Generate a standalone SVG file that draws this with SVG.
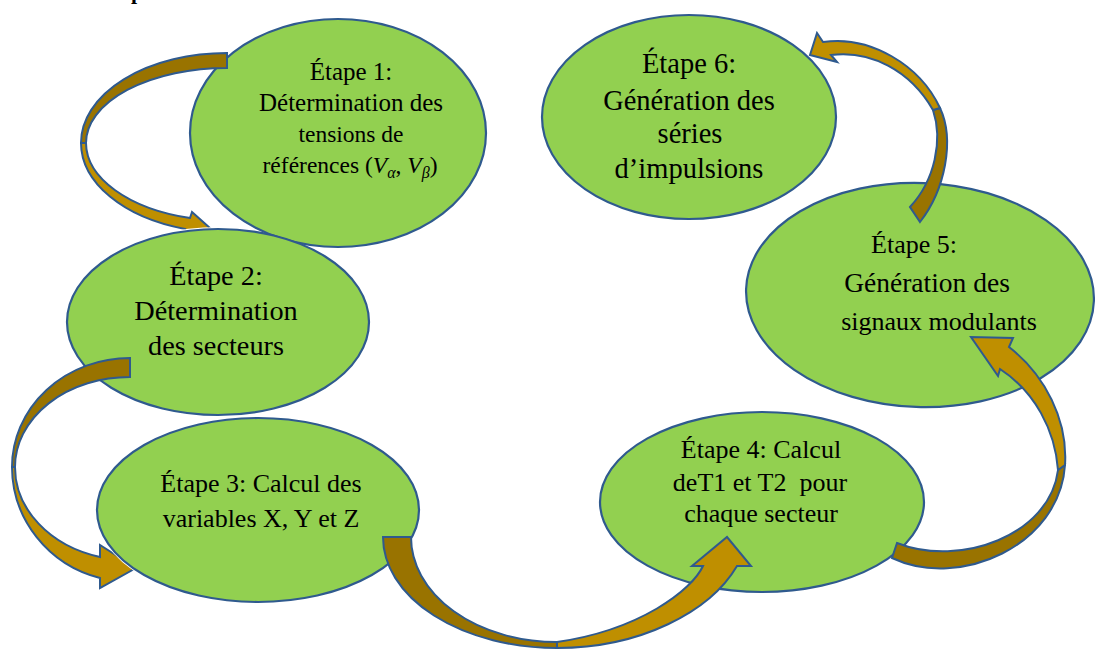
<svg xmlns="http://www.w3.org/2000/svg" width="1096" height="650" viewBox="0 0 1096 650">
  <style>
    .step { fill: #92D050; stroke: #2F5A8E; stroke-width: 2.2; }
    .lbl { font-family: 'Liberation Serif', 'DejaVu Serif', serif; fill: #000; text-anchor: middle; }
    .back { fill: #997300; stroke: #2F5A8E; stroke-width: 2; stroke-linejoin: miter; }
    .front { fill: #BF8F00; stroke: #2F5A8E; stroke-width: 2; stroke-linejoin: miter; }
  </style>
  <defs>
    <!-- keep the arrow heads tucked behind the ellipses they run into -->
    <clipPath id="behind-step2">
      <path clip-rule="evenodd" d="M0,0H1096V650H0Z M65,322 A153,95 0 1 0 371,322 A153,95 0 1 0 65,322 Z"/>
    </clipPath>
    <clipPath id="behind-step3">
      <path clip-rule="evenodd" d="M0,0H1096V650H0Z M95,510 A163,94 0 1 0 421,510 A163,94 0 1 0 95,510 Z"/>
    </clipPath>
  </defs>
  <rect width="1096" height="650" fill="#fff"/>

  <!-- clipped heading fragment at the very top -->
  <text x="131" y="-1" font-family="'Liberation Serif', 'DejaVu Serif', serif" font-weight="bold" font-size="22">p</text>

  <g id="step1" font-family="'Liberation Serif', 'DejaVu Serif', serif">
    <ellipse class="step" cx="338" cy="133" rx="148" ry="114"/>
    <text class="lbl" x="351" y="80" font-size="25">Étape 1:</text>
    <text class="lbl" x="351" y="111" font-size="25">Détermination des</text>
    <text class="lbl" x="351" y="142" font-size="23.5">tensions de</text>
    <text class="lbl" x="350" y="173" font-size="23.5">références (<tspan font-style="italic">V</tspan><tspan font-style="italic" font-size="16" dy="5">α</tspan><tspan dy="-5">, </tspan><tspan font-style="italic">V</tspan><tspan font-style="italic" font-size="16" dy="5">β</tspan><tspan dy="-5">)</tspan></text>
  </g>

  <g id="step2" font-family="'Liberation Serif', 'DejaVu Serif', serif">
    <ellipse class="step" cx="218" cy="322" rx="151" ry="93"/>
    <text class="lbl" x="216" y="285" font-size="28.3">Étape 2:</text>
    <text class="lbl" x="216" y="320" font-size="28.3">Détermination</text>
    <text class="lbl" x="216" y="355" font-size="28.3">des secteurs</text>
  </g>

  <g id="step3" font-family="'Liberation Serif', 'DejaVu Serif', serif">
    <ellipse class="step" cx="258" cy="510" rx="161" ry="92"/>
    <text class="lbl" x="261" y="492" font-size="26">Étape 3: Calcul des</text>
    <text class="lbl" x="261" y="527" font-size="26">variables X, Y et Z</text>
  </g>

  <g id="step4" font-family="'Liberation Serif', 'DejaVu Serif', serif">
    <ellipse class="step" cx="762" cy="502" rx="162" ry="90"/>
    <text class="lbl" x="761" y="458" font-size="26">Étape 4: Calcul</text>
    <text class="lbl" x="760" y="491" font-size="26" xml:space="preserve">deT1 et T2  pour</text>
    <text class="lbl" x="761" y="522" font-size="26">chaque secteur</text>
  </g>

  <g id="step5" font-family="'Liberation Serif', 'DejaVu Serif', serif">
    <ellipse class="step" cx="920" cy="295" rx="174" ry="112" transform="rotate(2 920 295)"/>
    <text class="lbl" x="914" y="253" font-size="26">Étape 5:</text>
    <text class="lbl" x="927" y="292" font-size="27.5">Génération des</text>
    <text class="lbl" x="939" y="330" font-size="26">signaux modulants</text>
  </g>

  <g id="step6" font-family="'Liberation Serif', 'DejaVu Serif', serif">
    <ellipse class="step" cx="689" cy="117" rx="147" ry="102"/>
    <text class="lbl" x="689" y="73" font-size="28.5">Étape 6:</text>
    <text class="lbl" x="689" y="110" font-size="28.5">Génération des</text>
    <text class="lbl" x="690" y="143" font-size="28.5">séries</text>
    <text class="lbl" x="689" y="178" font-size="28.5">d’impulsions</text>
  </g>

  <g id="connectors">
    <!-- 1 to 2 -->
    <g clip-path="url(#behind-step2)">
      <path class="back" d="M227,53 A146,90 0 0 0 81,143 L86,143 A141,75 0 0 1 227,68 Z"/>
      <path class="front" d="M81,143 A146,90 0 0 0 185,229 L182,241 L220,237 L192,212 L190,218 A141,78 0 0 1 86,143 Z"/>
    </g>
    <!-- 2 to 3 -->
    <g clip-path="url(#behind-step3)">
      <path class="back" d="M130,358 A118,109 0 0 0 12,467 L15,467 A115,90 0 0 1 130,377 Z"/>
      <path class="front" d="M12,467 A118,115 0 0 0 100,578 L100,588 L136,568 L100,545 L100,557 A115,93 0 0 1 15,467 Z"/>
    </g>
    <!-- 3 to 4 -->
    <path class="back" d="M383,537 L411,537 A146,105 0 0 0 557,642 L557,648 A174,111 0 0 1 383,537 Z"/>
    <path class="front" d="M557,648 C640,648 710,612 737,566 L751,566 L727,537 L692,566 L703,566 C692,590 640,630 557,642 Z"/>
    <!-- 4 to 5 -->
    <path class="back" d="M892,558 C960,590 1060,545 1065,465 L1058,470 C1050,535 960,568 897,543 Z"/>
    <path class="front" d="M1065,465 C1068,420 1045,375 1009,347 L1013,338 L971,337 L998,376 L1000,369 C1035,392 1055,430 1058,470 Z"/>
    <!-- 5 to 6 -->
    <path class="back" d="M920,222 C945,190 955,140 940,108 L933,110 C943,140 935,180 910,207 Z"/>
    <path class="front" d="M940,108 C920,65 870,35 823,42 L817,33 L810,55 L837,62 L831,55 C870,50 910,70 933,110 Z"/>
  </g>
</svg>
